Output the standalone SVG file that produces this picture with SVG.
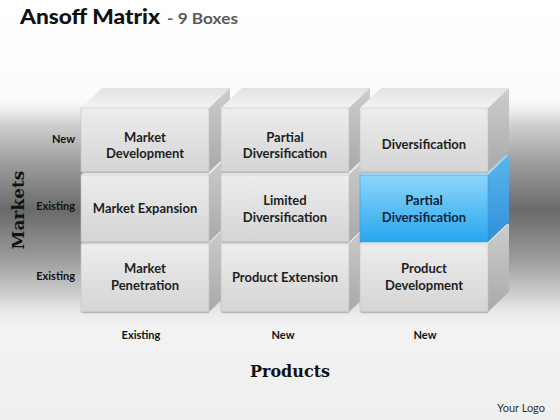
<svg xmlns="http://www.w3.org/2000/svg" width="560" height="420" viewBox="0 0 560 420">
<defs>
<linearGradient id="bg" gradientUnits="userSpaceOnUse" x1="0" y1="0" x2="0" y2="420">
<stop offset="0" stop-color="#ffffff"/><stop offset="1" stop-color="#efefef"/>
</linearGradient>
<linearGradient id="band" gradientUnits="userSpaceOnUse" x1="0" y1="95" x2="0" y2="330">
<stop offset="0" stop-color="#f4f4f4" stop-opacity="0"/>
<stop offset="0.12" stop-color="#d2d2d2"/>
<stop offset="0.3" stop-color="#9a9a9a"/>
<stop offset="0.49" stop-color="#6a6a6a"/>
<stop offset="0.53" stop-color="#737373"/>
<stop offset="0.7" stop-color="#9c9c9c"/>
<stop offset="0.86" stop-color="#d2d2d2"/>
<stop offset="1" stop-color="#f0f0f0" stop-opacity="0"/>
</linearGradient>
<linearGradient id="gFront" x1="0" y1="0" x2="0" y2="1">
<stop offset="0" stop-color="#ededed"/><stop offset="1" stop-color="#d4d4d4"/>
</linearGradient>
<linearGradient id="gSide" x1="0" y1="0" x2="0" y2="1">
<stop offset="0" stop-color="#cdcdcd"/><stop offset="1" stop-color="#a9a9a9"/>
</linearGradient>
<linearGradient id="gTop" x1="0" y1="0" x2="0" y2="1">
<stop offset="0" stop-color="#e2e2e2"/><stop offset="1" stop-color="#f3f3f3"/>
</linearGradient>
<linearGradient id="bFront" x1="0" y1="0" x2="0" y2="1">
<stop offset="0" stop-color="#8fd6fb"/><stop offset="1" stop-color="#27a6ef"/>
</linearGradient>
<linearGradient id="bSide" x1="0" y1="0" x2="0" y2="1">
<stop offset="0" stop-color="#5bb6ec"/><stop offset="1" stop-color="#2f8fd8"/>
</linearGradient>
<linearGradient id="bTop" x1="0" y1="0" x2="0" y2="1">
<stop offset="0" stop-color="#8fd3f8"/><stop offset="1" stop-color="#b5e4fb"/>
</linearGradient>
<style>
.front{fill:url(#gFront);stroke:#c4c4c4;stroke-width:0.6}
.side{fill:url(#gSide)}
.top{fill:url(#gTop)}
.blue .front{fill:url(#bFront);stroke:#2a9ee4}
.blue .side{fill:url(#bSide)}
.blue .top{fill:url(#bTop)}
.shadow{fill:none;stroke:#b8b8b8;stroke-width:1.5}
.lbl{font-family:Lato,"Liberation Sans",sans-serif;font-weight:700;font-size:13px;fill:#1e1e1e;text-anchor:middle}
.blue .lbl{fill:#0f2438}
.axl{font-family:Lato,"Liberation Sans",sans-serif;font-weight:700;font-size:11px;fill:#111}
.ax{font-family:"DejaVu Serif","Liberation Serif",serif;font-weight:700;fill:#111}
</style>
</defs>
<rect width="560" height="420" fill="url(#bg)"/>
<rect x="0" y="95" width="560" height="235" fill="url(#band)"/>

<text x="20" y="24" font-family="Lato,'Liberation Sans',sans-serif" font-weight="900" font-size="21" fill="#111" textLength="140" lengthAdjust="spacingAndGlyphs">Ansoff Matrix</text>
<text x="167" y="24" font-family="Lato,'Liberation Sans',sans-serif" font-weight="700" font-size="16" fill="#5a5a5a" textLength="71" lengthAdjust="spacingAndGlyphs">- 9 Boxes</text>

<g id="connectors"></g>

<!-- Column 1 -->
<g id="c1r3">
<polygon class="top" points="81,244 102,224 230,224 209,244"/>
<polygon class="side" points="209,244 230,224 230,292 209,312"/>
<rect class="front" x="81" y="244" width="128" height="68"/>
<line class="shadow" x1="82" y1="312.5" x2="209" y2="312.5"/>
<text class="lbl" x="145" y="272.5">Market</text>
<text class="lbl" x="145" y="289.5">Penetration</text>
</g>
<g id="c1r2">
<polygon class="top" points="81,175 102,155 230,155 209,175"/>
<polygon class="side" points="209,175 230,155 230,222 209,242"/>
<rect class="front" x="81" y="175" width="128" height="67"/>
<line class="shadow" x1="82" y1="242.5" x2="209" y2="242.5"/>
<text class="lbl" x="145" y="213">Market Expansion</text>
</g>
<g id="c1r1">
<polygon class="top" points="81,108 102,88 230,88 209,108"/>
<polygon class="side" points="209,108 230,88 230,152 209,172"/>
<rect class="front" x="81" y="108" width="128" height="64"/>
<line class="shadow" x1="82" y1="172.5" x2="209" y2="172.5"/>
<text class="lbl" x="145" y="141.5">Market</text>
<text class="lbl" x="145" y="158">Development</text>
</g>

<!-- Column 2 -->
<g id="c2r3">
<polygon class="top" points="221,244 242,224 370,224 349,244"/>
<polygon class="side" points="349,244 370,224 370,292 349,312"/>
<rect class="front" x="221" y="244" width="128" height="68"/>
<line class="shadow" x1="222" y1="312.5" x2="349" y2="312.5"/>
<text class="lbl" x="285" y="281.5">Product Extension</text>
</g>
<g id="c2r2">
<polygon class="top" points="221,175 242,155 370,155 349,175"/>
<polygon class="side" points="349,175 370,155 370,222 349,242"/>
<rect class="front" x="221" y="175" width="128" height="67"/>
<line class="shadow" x1="222" y1="242.5" x2="349" y2="242.5"/>
<text class="lbl" x="285" y="204.5">Limited</text>
<text class="lbl" x="285" y="221.5">Diversification</text>
</g>
<g id="c2r1">
<polygon class="top" points="221,108 242,88 370,88 349,108"/>
<polygon class="side" points="349,108 370,88 370,152 349,172"/>
<rect class="front" x="221" y="108" width="128" height="64"/>
<line class="shadow" x1="222" y1="172.5" x2="349" y2="172.5"/>
<text class="lbl" x="285" y="141.5">Partial</text>
<text class="lbl" x="285" y="158">Diversification</text>
</g>

<!-- Column 3 -->
<g id="c3r3">
<polygon class="top" points="360,244 381,224 509,224 488,244"/>
<polygon class="side" points="488,244 509,224 509,292 488,312"/>
<rect class="front" x="360" y="244" width="128" height="68"/>
<line class="shadow" x1="361" y1="312.5" x2="488" y2="312.5"/>
<text class="lbl" x="424" y="272.5">Product</text>
<text class="lbl" x="424" y="289.5">Development</text>
</g>
<g id="c3r2" class="blue">
<polygon class="top" points="360,175 381,155 509,155 488,175"/>
<polygon class="side" points="488,175 509,155 509,222 488,242"/>
<rect class="front" x="360" y="175" width="128" height="67"/>
<text class="lbl" x="424" y="204.5">Partial</text>
<text class="lbl" x="424" y="221.5">Diversification</text>
</g>
<g id="c3r1">
<polygon class="top" points="360,108 381,88 509,88 488,108"/>
<polygon class="side" points="488,108 509,88 509,152 488,172"/>
<rect class="front" x="360" y="108" width="128" height="64"/>
<line class="shadow" x1="361" y1="172.5" x2="488" y2="172.5"/>
<text class="lbl" x="424" y="149">Diversification</text>
</g>

<!-- Axis labels -->
<g id="rowLabels">
<text class="axl" x="75" y="143" text-anchor="end">New</text>
<text class="axl" x="75" y="210" text-anchor="end">Existing</text>
<text class="axl" x="75" y="280" text-anchor="end">Existing</text>
</g>
<g id="colLabels">
<text class="axl" x="141" y="339" text-anchor="middle">Existing</text>
<text class="axl" x="283" y="339" text-anchor="middle">New</text>
<text class="axl" x="425" y="339" text-anchor="middle">New</text>
</g>
<text class="ax" font-size="17" transform="translate(24,210) rotate(-90)" text-anchor="middle">Markets</text>
<text class="ax" font-size="16" x="290" y="377" text-anchor="middle">Products</text>
<text x="545" y="412" text-anchor="end" font-family="Lato,'Liberation Sans',sans-serif" font-size="11" fill="#333">Your Logo</text>
</svg>
